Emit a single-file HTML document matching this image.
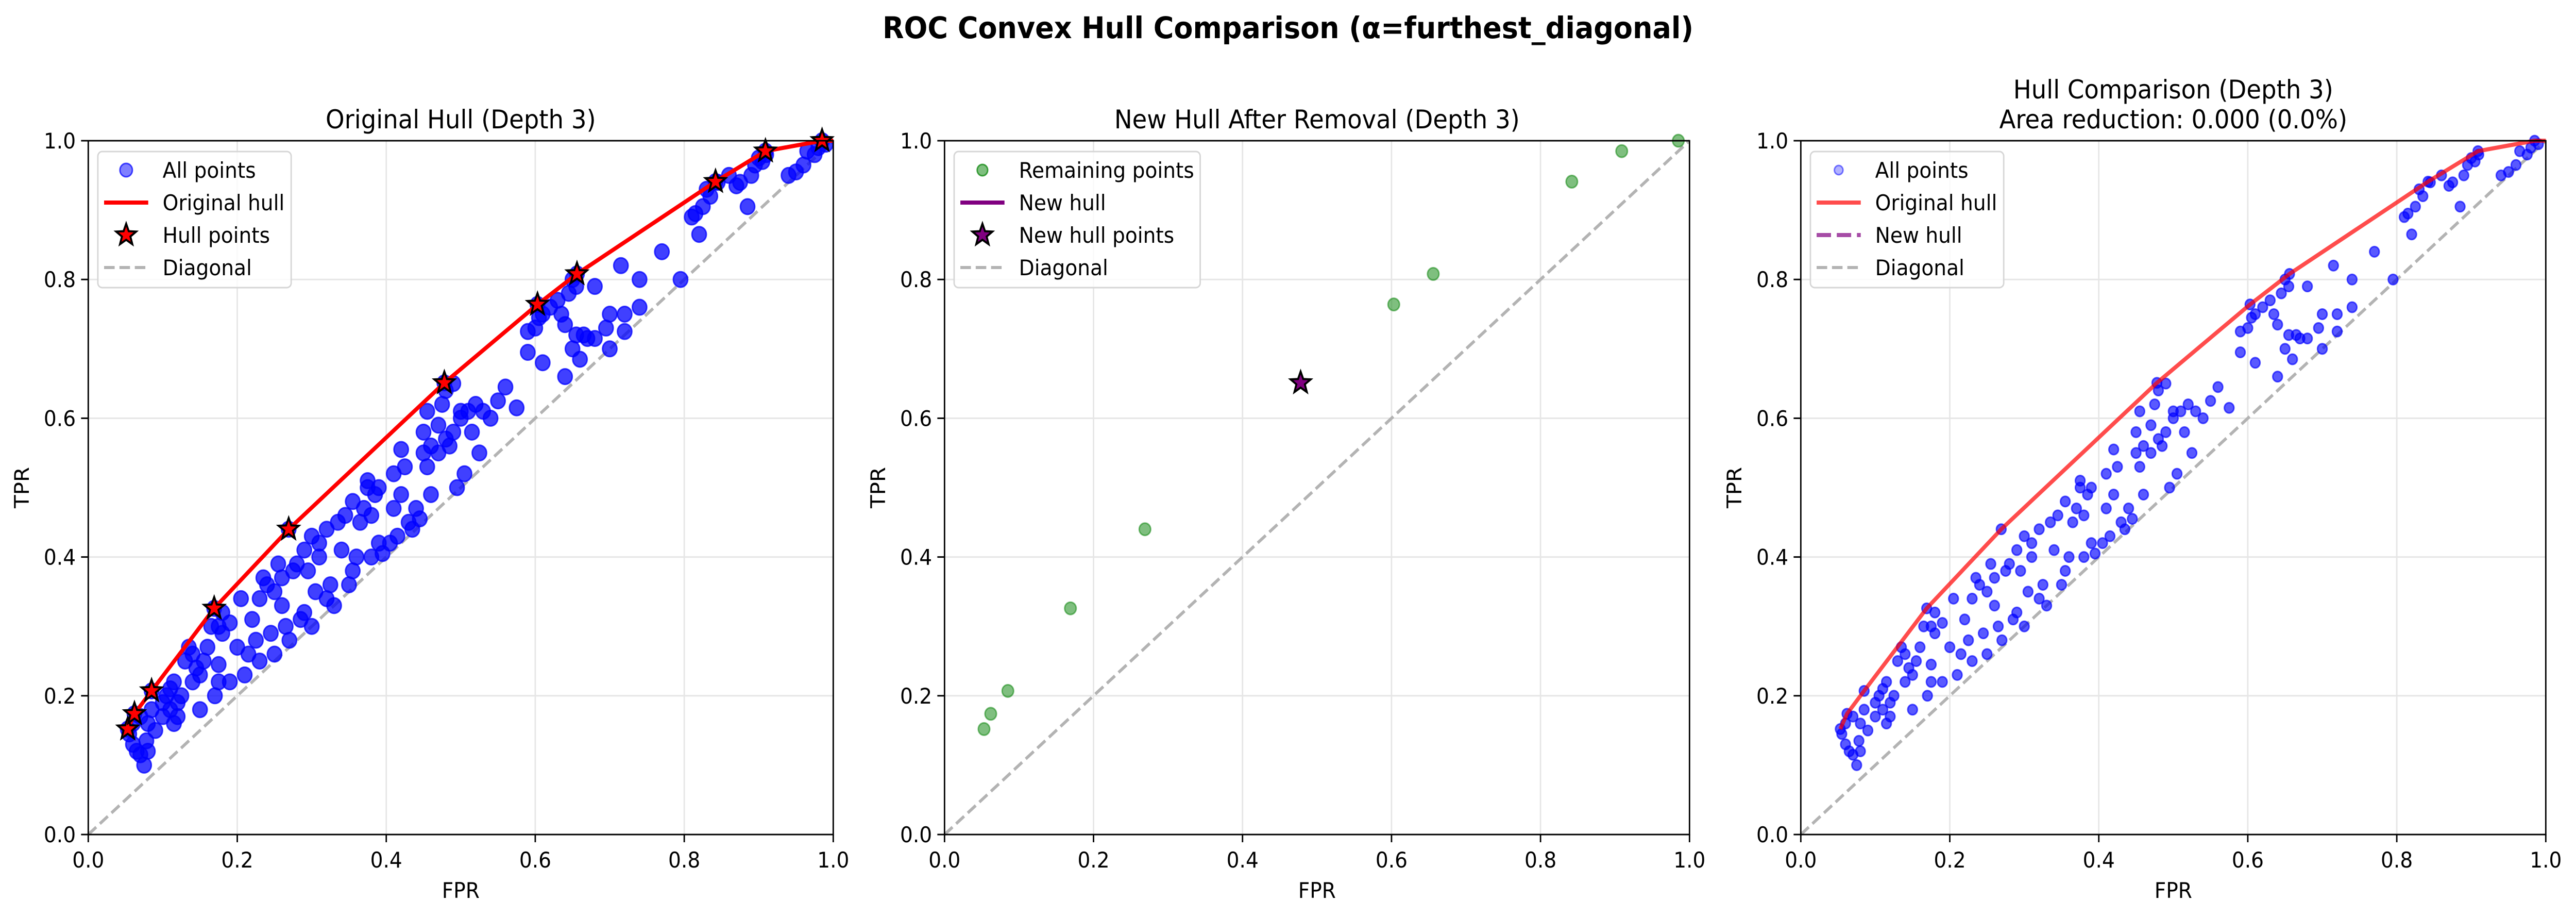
<!DOCTYPE html>
<html><head><meta charset="utf-8">
<style>
html,body{margin:0;padding:0;background:#fff;width:100%;height:100%;overflow:hidden;}
svg{display:block;position:absolute;left:0;top:0;width:100vw;height:100vh;font-family:"DejaVu Sans","Liberation Sans",sans-serif;}
</style></head>
<body>
<svg id="fig" viewBox="0 0 5370 1779" preserveAspectRatio="none" xmlns="http://www.w3.org/2000/svg">
<rect width="5370" height="1779" fill="#fff"/>
<text x="2685" y="74" font-size="58" font-weight="bold" text-anchor="middle">ROC Convex Hull Comparison (α=furthest_diagonal)</text>
</svg>
<script>
const allFpr=[0.055,0.06,0.065,0.07,0.075,0.08,0.078,0.06,0.07,0.08,0.09,0.085,0.1,0.1,0.105,0.11,0.11,0.115,0.12,0.12,0.125,0.115,0.13,0.135,0.14,0.145,0.15,0.14,0.155,0.16,0.165,0.175,0.18,0.18,0.175,0.17,0.175,0.15,0.19,0.19,0.2,0.205,0.21,0.215,0.22,0.225,0.23,0.23,0.235,0.24,0.245,0.25,0.25,0.255,0.26,0.26,0.265,0.27,0.275,0.28,0.285,0.29,0.29,0.295,0.3,0.3,0.305,0.31,0.31,0.32,0.32,0.325,0.33,0.335,0.34,0.345,0.35,0.355,0.355,0.36,0.365,0.37,0.375,0.375,0.38,0.38,0.385,0.39,0.39,0.395,0.405,0.41,0.41,0.415,0.42,0.42,0.425,0.43,0.435,0.44,0.445,0.45,0.45,0.455,0.455,0.46,0.46,0.47,0.47,0.475,0.48,0.48,0.485,0.49,0.49,0.495,0.5,0.5,0.505,0.51,0.515,0.52,0.525,0.53,0.54,0.55,0.56,0.575,0.59,0.59,0.6,0.605,0.61,0.61,0.62,0.63,0.635,0.64,0.64,0.645,0.65,0.65,0.655,0.655,0.66,0.665,0.67,0.68,0.68,0.695,0.7,0.7,0.72,0.72,0.715,0.74,0.74,0.77,0.795,0.81,0.815,0.82,0.825,0.83,0.835,0.845,0.86,0.87,0.875,0.885,0.89,0.895,0.9,0.905,0.91,0.94,0.95,0.96,0.965,0.975,0.98,0.99,0.053,0.062,0.085,0.169,0.269,0.478,0.603,0.656,0.842,0.909,0.985];
const allTpr=[0.145,0.13,0.12,0.115,0.1,0.12,0.135,0.16,0.17,0.16,0.15,0.18,0.19,0.17,0.2,0.21,0.18,0.16,0.19,0.17,0.2,0.22,0.25,0.27,0.26,0.24,0.23,0.22,0.25,0.27,0.3,0.3,0.32,0.29,0.245,0.2,0.22,0.18,0.22,0.305,0.27,0.34,0.23,0.26,0.31,0.28,0.25,0.34,0.37,0.36,0.29,0.26,0.35,0.39,0.33,0.37,0.3,0.28,0.38,0.39,0.31,0.32,0.41,0.38,0.3,0.43,0.35,0.42,0.4,0.34,0.44,0.36,0.33,0.45,0.41,0.46,0.36,0.38,0.48,0.4,0.45,0.47,0.5,0.51,0.46,0.4,0.49,0.5,0.42,0.405,0.42,0.52,0.47,0.43,0.49,0.555,0.53,0.45,0.44,0.47,0.455,0.55,0.58,0.61,0.53,0.56,0.49,0.59,0.55,0.62,0.57,0.64,0.56,0.65,0.58,0.5,0.6,0.61,0.52,0.61,0.58,0.62,0.55,0.61,0.6,0.625,0.645,0.615,0.725,0.695,0.73,0.745,0.68,0.75,0.76,0.77,0.75,0.735,0.66,0.78,0.7,0.8,0.72,0.79,0.685,0.72,0.715,0.79,0.715,0.73,0.75,0.7,0.725,0.75,0.82,0.8,0.76,0.84,0.8,0.89,0.895,0.865,0.905,0.93,0.92,0.94,0.95,0.935,0.94,0.905,0.95,0.965,0.975,0.97,0.98,0.95,0.955,0.965,0.985,0.98,0.99,0.995,0.152,0.174,0.207,0.326,0.44,0.651,0.764,0.808,0.941,0.985,1.0];
const hullFpr=[0.053,0.062,0.085,0.169,0.269,0.478,0.603,0.656,0.842,0.909,0.985,1.0];
const hullTpr=[0.152,0.174,0.207,0.326,0.44,0.651,0.764,0.808,0.941,0.985,1.0,1.0];
const remFpr=[0.053,0.062,0.085,0.169,0.269,0.603,0.656,0.842,0.909,0.985];
const remTpr=[0.152,0.174,0.207,0.326,0.44,0.764,0.808,0.941,0.985,1.0];
const newHullFpr=[0.478];
const newHullTpr=[0.651];
const tickVals=[0,0.2,0.4,0.6,0.8,1.0];
const tickLabels=["0.0","0.2","0.4","0.6","0.8","1.0"];

const NS="http://www.w3.org/2000/svg";
const svg=document.getElementById('fig');
const LEFTS=[184,1969,3754], W=1553, TOP=273, BOT=1619, H=BOT-TOP;
function el(tag,attrs,parent){const e=document.createElementNS(NS,tag);for(const k in attrs)e.setAttribute(k,attrs[k]);(parent||svg).appendChild(e);return e;}
function xs(p,v){return LEFTS[p]+v*W;}
function ys(v){return BOT-v*H;}
function starPath(cx,cy,R){const r=R*0.42;let d='';for(let i=0;i<10;i++){const a=-Math.PI/2+i*Math.PI/5;const rr=i%2?r:R;d+=(i?'L':'M')+(cx+rr*Math.cos(a)).toFixed(1)+','+(cy+rr*Math.sin(a)).toFixed(1);}return d+'Z';}

function axes(p,title,title2){
  const g=el('g',{});
  
  
  for(let i=1;i<tickVals.length-1;i++){
    const v=tickVals[i];
    const gx=el('line',{x1:xs(p,v),x2:xs(p,v),y1:TOP,y2:BOT,stroke:'#e6e6e6','stroke-width':3},g);
    
    
    const gy=el('line',{x1:LEFTS[p],x2:LEFTS[p]+W,y1:ys(v),y2:ys(v),stroke:'#e6e6e6','stroke-width':3},g);
    
    
  }
  const d=el('line',{x1:xs(p,0),y1:ys(0),x2:xs(p,1),y2:ys(1),stroke:'#b3b3b3','stroke-width':6,'stroke-dasharray':'22,10'},g);
  
  
  if(title2){
    const t1=el('text',{x:LEFTS[p]+W/2,y:191,'font-size':50,'text-anchor':'middle'},g);t1.textContent=title;
    
    
    const t2=el('text',{x:LEFTS[p]+W/2,y:249,'font-size':50,'text-anchor':'middle'},g);t2.textContent=title2;
    
    
  } else {
    const t=el('text',{x:LEFTS[p]+W/2,y:249,'font-size':50,'text-anchor':'middle'},g);t.textContent=title;
    
    
  }
  const xl=el('text',{x:LEFTS[p]+W/2,y:1742,'font-size':42,'text-anchor':'middle'},g);xl.textContent='FPR';
  
  
  const yl=el('text',{x:0,y:0,'font-size':42,'text-anchor':'middle',transform:`translate(${LEFTS[p]-124},${(TOP+BOT)/2}) rotate(-90)`},g);yl.textContent='TPR';
  
  
  for(let i=0;i<tickVals.length;i++){
    const v=tickVals[i];
    el('line',{x1:xs(p,v),x2:xs(p,v),y1:BOT,y2:BOT+15,stroke:'#000','stroke-width':3},g);
    const tx=el('text',{x:xs(p,v),y:1683,'font-size':42,'text-anchor':'middle'},g);tx.textContent=tickLabels[i];
    
    
    el('line',{x1:LEFTS[p]-15,x2:LEFTS[p],y1:ys(v),y2:ys(v),stroke:'#000','stroke-width':3},g);
    const ty=el('text',{x:LEFTS[p]-26,y:ys(v)+15,'font-size':42,'text-anchor':'end'},g);ty.textContent=tickLabels[i];
    
    
  }
  return g;
}
function frame(p){const f=el('rect',{x:LEFTS[p],y:TOP,width:W,height:H,fill:'none',stroke:'#000','stroke-width':3});
  
  }
function hullLine(p,fx,ty,color,op,dash){
  let d='';for(let i=0;i<fx.length;i++)d+=(i?'L':'M')+xs(p,fx[i]).toFixed(1)+','+ys(ty[i]).toFixed(1);
  const a={d:d,fill:'none',stroke:color,'stroke-width':8,'stroke-opacity':op,'stroke-linejoin':'round'};
  if(dash)a['stroke-dasharray']=dash;
  return el('path',a);
}
function legend(p,w,items){
  const x0=LEFTS[p]+20,y0=294;
  const g=el('g',{});
  
  
  el('rect',{x:x0,y:y0,width:w,height:264,rx:9,fill:'#fff','fill-opacity':0.8,stroke:'#d6d6d6','stroke-width':3},g);
  items.forEach((it,i)=>{
    const cy=y0+36+i*63, mx=x0+59;
    if(it.t==='dot'){el('circle',{cx:mx,cy:cy,r:it.r,fill:it.c,'fill-opacity':it.o,stroke:it.c,'stroke-opacity':Math.min(1,it.o+0.2),'stroke-width':3},g);}
    else if(it.t==='line'){el('line',{x1:x0+13,x2:x0+105,y1:cy,y2:cy,stroke:it.c,'stroke-width':it.w||8,'stroke-opacity':it.o||1,'stroke-dasharray':it.dash||'none'},g);}
    else if(it.t==='star'){el('path',{d:starPath(mx,cy,22),fill:it.c,stroke:'#000','stroke-width':4,'stroke-linejoin':'miter'},g);}
    const t=el('text',{x:x0+135,y:cy+15,'font-size':42},g);t.textContent=it.label;
    
    
  });
}

// Panel 1
axes(0,'Original Hull (Depth 3)');
for(let i=0;i<allFpr.length;i++){
  const c=el('circle',{cx:xs(0,allFpr[i]),cy:ys(allTpr[i]),r:15,fill:'#0000ff','fill-opacity':0.75,stroke:'#0000ff','stroke-opacity':0.75,'stroke-width':3});
  
  
}
const h1=hullLine(0,hullFpr,hullTpr,'#ff0000',1);


for(let i=0;i<hullFpr.length-1;i++){
  const s=el('path',{d:starPath(xs(0,hullFpr[i]),ys(hullTpr[i]),22),fill:'#ff0000',stroke:'#000','stroke-width':4});
  
  
}
frame(0);
legend(0,403,[{t:'dot',c:'#0000ff',o:0.5,r:13,label:'All points'},{t:'line',c:'#ff0000',label:'Original hull'},{t:'star',c:'#ff0000',label:'Hull points'},{t:'line',c:'#b3b3b3',w:6,dash:'22,10',label:'Diagonal'}]);

// Panel 2
axes(1,'New Hull After Removal (Depth 3)');
for(let i=0;i<remFpr.length;i++){
  const c=el('circle',{cx:xs(1,remFpr[i]),cy:ys(remTpr[i]),r:12,fill:'#008000','fill-opacity':0.5,stroke:'#008000','stroke-opacity':0.5,'stroke-width':3});
  
  
}
const h2=hullLine(1,newHullFpr,newHullTpr,'#800080',1);


for(let i=0;i<newHullFpr.length;i++){
  const s=el('path',{d:starPath(xs(1,newHullFpr[i]),ys(newHullTpr[i]),22),fill:'#800080',stroke:'#000','stroke-width':4});
  
  
}
frame(1);
legend(1,513,[{t:'dot',c:'#008000',o:0.5,r:11,label:'Remaining points'},{t:'line',c:'#800080',label:'New hull'},{t:'star',c:'#800080',label:'New hull points'},{t:'line',c:'#b3b3b3',w:6,dash:'22,10',label:'Diagonal'}]);

// Panel 3
axes(2,'Hull Comparison (Depth 3)','Area reduction: 0.000 (0.0%)');
for(let i=0;i<allFpr.length;i++){
  const c=el('circle',{cx:xs(2,allFpr[i]),cy:ys(allTpr[i]),r:10,fill:'#0000ff','fill-opacity':0.65,stroke:'#0000ff','stroke-opacity':0.65,'stroke-width':3});
  
  
}
const h3=hullLine(2,hullFpr,hullTpr,'#ff0000',0.7);


const h4=hullLine(2,newHullFpr,newHullTpr,'#800080',0.7,'30,12');


frame(2);
legend(2,403,[{t:'dot',c:'#0000ff',o:0.3,r:9,label:'All points'},{t:'line',c:'#ff0000',o:0.7,label:'Original hull'},{t:'line',c:'#800080',o:0.7,dash:'30,12',label:'New hull'},{t:'line',c:'#b3b3b3',w:6,dash:'22,10',label:'Diagonal'}]);
</script>
</body></html>
